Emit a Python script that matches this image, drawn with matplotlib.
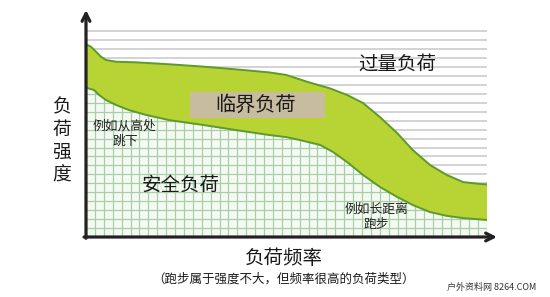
import numpy as np
import matplotlib
matplotlib.use("Agg")
import matplotlib.pyplot as plt
from matplotlib.patches import Polygon, Rectangle

plt.rcParams['font.family'] = ['Noto Sans CJK SC', 'DejaVu Sans']

# 临界负荷带的上边界（负荷频率, 负荷强度）
upper_x = [0, 1.25, 2.5, 3.74, 4.99, 7.48, 12.5, 20.7, 29.2, 37.4, 45.6, 49.9,
           55.1, 60.8, 65.1, 69.1, 73.3, 77.6, 81.5, 85.8, 90.0, 94.0, 98.3, 100]
upper_y = [90.5, 89.3, 87.0, 84.6, 83.1, 82.3, 82.0, 81.1, 80.0, 78.7, 77.3, 76.1,
           72.9, 69.8, 66.7, 62.9, 56.3, 48.8, 40.8, 33.8, 29.1, 25.8, 24.9, 24.7]

# 临界负荷带的下边界
lower_x = [0, 2.0, 3.24, 4.99, 7.48, 10.7, 15.0, 20.7, 29.2, 37.4, 45.6, 49.9,
           53.4, 58.4, 61.6, 65.1, 69.1, 73.3, 77.6, 81.5, 85.8, 90.0, 94.0, 100]
lower_y = [70.1, 69.0, 66.7, 64.3, 62.0, 59.6, 57.3, 54.9, 52.6, 50.2, 47.9, 46.9,
           45.5, 43.2, 39.9, 35.2, 29.1, 23.5, 18.8, 15.0, 11.7, 9.9, 8.9, 8.0]

band_color = '#b7d334'
edge_color = '#5c9a2c'

fig = plt.figure(figsize=(5.5, 2.97), dpi=100)
ax = fig.add_axes([86 / 550, 60 / 297, 401 / 550, 213 / 297])
ax.set_xlim(0, 100)
ax.set_ylim(0, 100)
ax.axis('off')

# 背景横线（过量负荷区）
h_pos = np.arange(0, 100.1, 4.2)
ax.hlines(h_pos, 0, 100, colors='#d3d3d3', lw=1.4, zorder=1)

# 安全负荷区：浅绿方格
safe = Polygon([(0, 0)] + list(zip(lower_x, lower_y)) + [(100, 0)],
               closed=True, facecolor='#f4faf2', edgecolor='none', zorder=2)
ax.add_patch(safe)
v_pos = np.arange(0, 100.1, 2.22)
gh = ax.hlines(h_pos, 0, 100, colors='#a9cca9', lw=0.9, zorder=3)
gv = ax.vlines(v_pos, 0, 100, colors='#a9cca9', lw=0.9, zorder=3)
gh.set_clip_path(safe)
gv.set_clip_path(safe)

# 临界负荷带
ax.fill(upper_x + lower_x[::-1], upper_y + lower_y[::-1],
        color=band_color, lw=0, zorder=4)
ax.plot(upper_x, upper_y, color=edge_color, lw=1.4, zorder=5,
        solid_joinstyle='round')
ax.plot(lower_x, lower_y, color=edge_color, lw=1.4, zorder=5,
        solid_joinstyle='round')

# 坐标轴箭头
arrow = dict(arrowstyle='->', lw=2.3, color='#222222', mutation_scale=14,
             shrinkA=0, shrinkB=0)
ax.annotate('', xy=(0, 106.6), xytext=(0, -0.6), arrowprops=arrow,
            annotation_clip=False, zorder=6)
ax.annotate('', xy=(102.5, 0), xytext=(-0.5, 0), arrowprops=arrow,
            annotation_clip=False, zorder=6)

# 文字
ax.add_patch(Rectangle((25.9, 55.9), 33.6, 12.2, facecolor='#c7bc9f',
                       edgecolor='none', zorder=6))
ax.text(42.3, 61.8, '临界负荷', fontsize=14.5, ha='center', va='center',
        color='#1a1a1a', zorder=7)
ax.text(77.6, 81.0, '过量负荷', fontsize=14, ha='center', va='center',
        color='#1a1a1a', zorder=7)
ax.text(23.6, 24.4, '安全负荷', fontsize=14, ha='center', va='center',
        color='#1a1a1a', zorder=7)
ax.text(9.7, 48.5, '例如从高处\n跳下', fontsize=9.2, ha='center', va='center',
        linespacing=1.15, color='#222222', zorder=7)
ax.text(72.5, 9.5, '例如长距离\n跑步', fontsize=9.2, ha='center', va='center',
        linespacing=1.15, color='#222222', zorder=7)

ax.text(-6.0, 45.0, '负\n荷\n强\n度', fontsize=13.5, ha='center', va='center',
        linespacing=1.12, color='#1a1a1a', clip_on=False)
fig.text(284 / 550, 1 - 258 / 297, '负荷频率', fontsize=14, ha='center',
         va='center', color='#1a1a1a')
fig.text(284 / 550, 1 - 279 / 297, '（跑步属于强度不大，但频率很高的负荷类型）',
         fontsize=9, ha='center', va='center', color='#1a1a1a')
fig.text(492 / 550, 1 - 287 / 297, '户外资料网 8264.COM', fontsize=6.5,
         ha='center', va='center', color='#333333')

fig.savefig('out.png', dpi=100, facecolor='white')
